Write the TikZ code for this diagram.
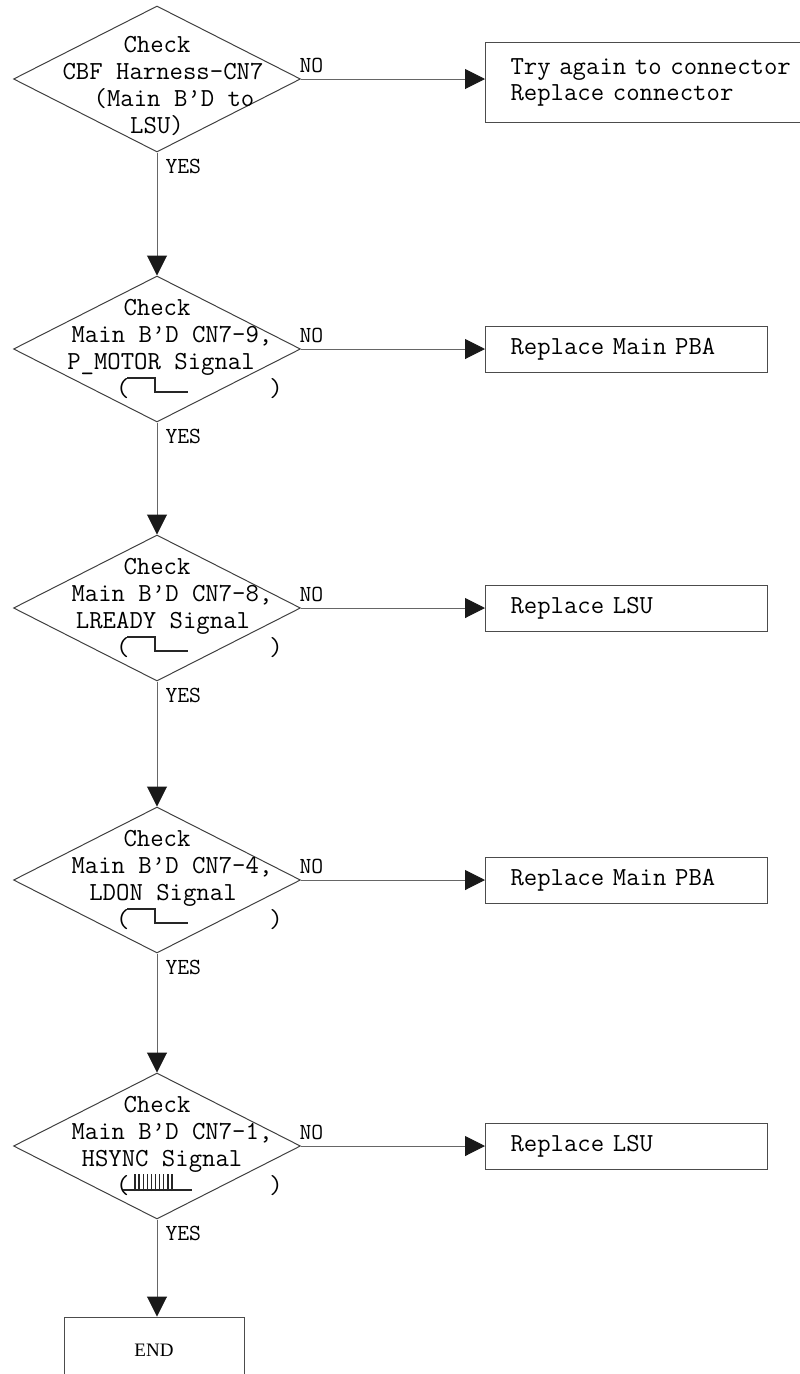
\documentclass[tikz,border=0pt]{standalone}
\usepackage{fontspec}
\setmainfont{Liberation Serif}
\usetikzlibrary{shapes.geometric,arrows.meta,positioning}

\begin{document}
\begin{tikzpicture}[x=1pt,y=-1pt,
    check/.style={diamond,draw=black!75,line width=1pt,minimum width=287pt,minimum height=146pt,inner sep=0pt},
    checktext/.style={font=\ttfamily\fontsize{26}{27}\selectfont,align=center,inner sep=0pt},
    fixbox/.style={rectangle,draw=black!70,line width=1pt,font=\ttfamily\fontsize{26}{26}\selectfont,
                   align=left,text width=232pt,inner xsep=25pt,minimum height=46pt,anchor=west},
    flow/.style={draw=black!60,line width=1pt,-{Triangle[length=20pt,width=20pt,color=black!90]}},
    answer/.style={font=\ttfamily\fontsize{23}{24}\selectfont,inner sep=0pt},
    wave/.style={line width=2pt,black!85}]
  \useasboundingbox (0,0) rectangle (800,1374);
  \clip (0,0) rectangle (800,1374);

  % checks
  \node[check,label={[checktext,yshift=-7pt]center:{Check\\\hspace*{12pt}CBF Harness-CN7\\\hspace*{34pt}(Main B’D to\\LSU)}}] (d1) at (157,79) {};
  \node[check,label={[checktext]center:{Check\\\hspace*{30pt}Main B’D CN7-9,\\\hspace*{8pt}P\_MOTOR Signal\\\hspace*{85pt}(\hspace*{140pt})}}] (d2) at (157,349) {};
  \node[check,label={[checktext]center:{Check\\\hspace*{30pt}Main B’D CN7-8,\\\hspace*{12pt}LREADY Signal\\\hspace*{85pt}(\hspace*{140pt})}}] (d3) at (157,608) {};
  \node[check,label={[checktext]center:{Check\\\hspace*{30pt}Main B’D CN7-4,\\\hspace*{12pt}LDON Signal\\\hspace*{85pt}(\hspace*{140pt})}}] (d4) at (157,880) {};
  \node[check,label={[checktext]center:{Check\\\hspace*{30pt}Main B’D CN7-1,\\\hspace*{10pt}HSYNC Signal\\\hspace*{85pt}(\hspace*{140pt})}}] (d5) at (157,1146) {};

  % signal shapes
  \foreach \d in {d2,d3,d4}
    \draw[wave] ([shift={(-30,29)}]\d.center) -- ++(28,0) -- ++(0,14) -- ++(33,0);
  \draw[wave] ([shift={(-34,44)}]d5.center) -- ++(69,0);
  \foreach \i in {0,...,9}
    \draw[line width=1.4pt,black!85] ([shift={(-22+4.1*\i,45)}]d5.center) -- ++(0,-17);

  % repairs
  \node[fixbox,text width=330pt,minimum height=80pt] (b1) at (485,82) {Try again to connector\\Replace connector};
  \node[fixbox] (b2) at (485,349) {Replace Main PBA};
  \node[fixbox] (b3) at (485,608) {Replace LSU};
  \node[fixbox] (b4) at (485,880) {Replace Main PBA};
  \node[fixbox] (b5) at (485,1146) {Replace LSU};
  \node[draw=black!70,line width=1pt,minimum width=180pt,minimum height=66pt,font=\fontsize{19}{22}\selectfont] (fin) at (154,1350) {END};

  % NO branches
  \draw[flow] (d1.east) -- node[answer,pos=0,anchor=south west,xshift=-2pt,yshift=6pt] (no1) {NO} (d1.east -| b1.west);
  \draw[flow] (d2.east) -- node[answer,pos=0,anchor=south west,xshift=-2pt,yshift=6pt] (no2) {NO} (b2.west);
  \draw[flow] (d3.east) -- node[answer,pos=0,anchor=south west,xshift=-2pt,yshift=6pt] (no3) {NO} (b3.west);
  \draw[flow] (d4.east) -- node[answer,pos=0,anchor=south west,xshift=-2pt,yshift=6pt] (no4) {NO} (b4.west);
  \draw[flow] (d5.east) -- node[answer,pos=0,anchor=south west,xshift=-2pt,yshift=6pt] (no5) {NO} (b5.west);

  % YES branches
  \draw[flow] (d1.south) -- node[answer,pos=0,anchor=north west,xshift=8pt,yshift=-6pt] (yes1) {YES} (d2.north);
  \draw[flow] (d2.south) -- node[answer,pos=0,anchor=north west,xshift=8pt,yshift=-6pt] (yes2) {YES} (d3.north);
  \draw[flow] (d3.south) -- node[answer,pos=0,anchor=north west,xshift=8pt,yshift=-6pt] (yes3) {YES} (d4.north);
  \draw[flow] (d4.south) -- node[answer,pos=0,anchor=north west,xshift=8pt,yshift=-6pt] (yes4) {YES} (d5.north);
  \draw[flow] (d5.south) -- node[answer,pos=0,anchor=north west,xshift=8pt,yshift=-6pt] (yes5) {YES} (fin.north -| d5.south);
\end{tikzpicture}
\end{document}
